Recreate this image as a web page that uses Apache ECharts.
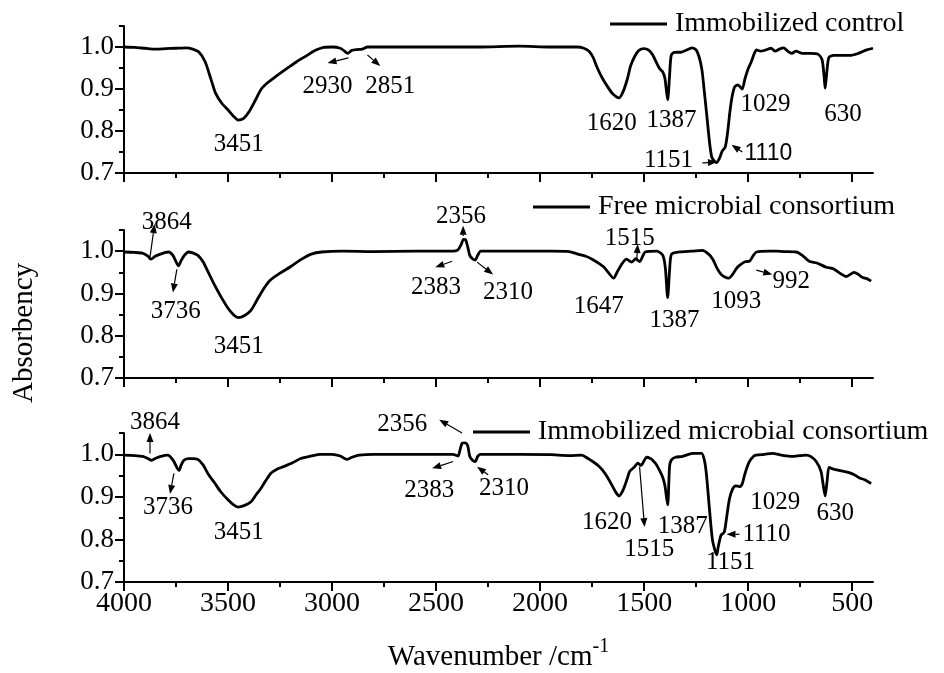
<!DOCTYPE html>
<html lang="en">
<head>
<meta charset="UTF-8">
<title>FTIR spectra</title>
<script src="https://cdn.jsdelivr.net/npm/echarts@6.0.0/dist/echarts.min.js"></script>
<style>html,body{margin:0;background:#fff}</style>
</head>
<body>
<div id="main" style="width:944px;height:673px;"></div>
<script>
// [wavenumber, absorbency]
var immobilizedControl = [[4000,1.0],[3950,0.999],[3900,0.997],[3850,0.995],[3800,0.996],[3750,0.997],[3700,0.998],[3670,0.995],[3640,0.988],[3610,0.965],[3580,0.92],[3560,0.89],[3530,0.866],[3500,0.85],[3475,0.836],[3451,0.826],[3425,0.83],[3400,0.845],[3370,0.872],[3340,0.9],[3310,0.915],[3270,0.93],[3220,0.948],[3170,0.965],[3120,0.98],[3080,0.992],[3040,0.999],[3000,1.0],[2960,0.997],[2940,0.99],[2925,0.985],[2905,0.992],[2880,0.994],[2855,0.995],[2830,1.0],[2600,1.0],[2300,1.0],[2100,1.002],[1950,1.0],[1820,1.0],[1790,0.997],[1765,0.99],[1745,0.975],[1725,0.95],[1700,0.925],[1675,0.905],[1650,0.888],[1620,0.879],[1600,0.895],[1580,0.925],[1565,0.955],[1545,0.978],[1525,0.992],[1500,0.996],[1480,0.993],[1460,0.982],[1440,0.962],[1425,0.948],[1410,0.94],[1400,0.925],[1387,0.874],[1378,0.93],[1370,0.98],[1355,0.987],[1320,0.988],[1290,0.994],[1270,0.998],[1250,0.993],[1235,0.975],[1222,0.945],[1210,0.89],[1198,0.833],[1185,0.77],[1175,0.738],[1162,0.728],[1151,0.725],[1138,0.735],[1125,0.752],[1110,0.762],[1098,0.8],[1088,0.845],[1078,0.88],[1065,0.905],[1050,0.91],[1038,0.905],[1029,0.9],[1015,0.925],[1000,0.948],[985,0.965],[970,0.985],[960,0.993],[940,0.99],[915,0.993],[890,0.997],[870,0.99],[850,0.995],[830,0.998],[810,0.99],[790,0.985],[770,0.99],[740,0.985],[700,0.985],[665,0.983],[645,0.97],[635,0.93],[630,0.902],[622,0.94],[612,0.975],[590,0.98],[550,0.98],[510,0.98],[470,0.985],[430,0.993],[400,0.997]];
var freeConsortium = [[4000,0.998],[3950,0.997],[3910,0.995],[3885,0.988],[3870,0.981],[3850,0.988],[3825,0.993],[3800,0.997],[3785,0.998],[3765,0.99],[3750,0.975],[3738,0.965],[3725,0.978],[3710,0.99],[3690,0.998],[3670,0.996],[3645,0.99],[3620,0.975],[3597,0.952],[3565,0.92],[3535,0.893],[3500,0.865],[3470,0.848],[3451,0.843],[3420,0.848],[3390,0.86],[3360,0.885],[3330,0.91],[3300,0.93],[3250,0.948],[3200,0.963],[3150,0.98],[3100,0.993],[3050,0.998],[2950,1.0],[2800,0.999],[2600,1.0],[2420,1.0],[2395,1.003],[2380,1.015],[2368,1.028],[2358,1.027],[2348,1.01],[2338,0.99],[2325,0.982],[2312,0.979],[2300,0.99],[2285,1.0],[2100,1.0],[1950,1.0],[1860,0.999],[1820,0.993],[1780,0.988],[1750,0.981],[1720,0.972],[1695,0.963],[1670,0.948],[1647,0.936],[1630,0.95],[1608,0.969],[1585,0.981],[1560,0.974],[1540,0.982],[1522,0.975],[1505,0.99],[1495,0.998],[1440,1.0],[1410,0.99],[1398,0.96],[1387,0.89],[1377,0.96],[1368,0.993],[1330,0.998],[1270,1.0],[1220,1.002],[1190,0.993],[1170,0.981],[1150,0.96],[1130,0.945],[1110,0.938],[1093,0.936],[1075,0.945],[1055,0.96],[1040,0.967],[1015,0.975],[994,0.976],[975,0.99],[960,0.998],[900,1.0],[865,1.0],[830,0.999],[769,0.998],[740,0.99],[707,0.976],[670,0.972],[625,0.962],[590,0.958],[560,0.948],[529,0.94],[500,0.948],[491,0.95],[470,0.945],[452,0.938],[430,0.935],[409,0.929]];
var immobilizedConsortium = [[4000,0.998],[3950,0.997],[3910,0.995],[3885,0.99],[3870,0.986],[3850,0.99],[3823,0.995],[3789,0.998],[3770,0.99],[3760,0.983],[3745,0.968],[3736,0.962],[3725,0.975],[3712,0.986],[3690,0.99],[3670,0.99],[3645,0.988],[3620,0.975],[3597,0.955],[3565,0.933],[3535,0.912],[3500,0.893],[3473,0.881],[3451,0.876],[3420,0.88],[3391,0.888],[3365,0.905],[3343,0.919],[3320,0.937],[3295,0.955],[3265,0.965],[3233,0.971],[3190,0.98],[3151,0.99],[3100,0.996],[3056,1.0],[3000,1.0],[2960,0.996],[2940,0.99],[2926,0.988],[2905,0.993],[2870,0.998],[2800,1.0],[2600,1.0],[2420,1.0],[2395,0.996],[2385,1.01],[2375,1.026],[2360,1.027],[2348,1.02],[2338,0.995],[2325,0.986],[2312,0.983],[2300,0.995],[2288,1.0],[2100,1.0],[1950,0.999],[1860,0.997],[1800,0.998],[1770,0.99],[1747,0.983],[1720,0.973],[1699,0.962],[1675,0.945],[1651,0.924],[1635,0.91],[1620,0.902],[1605,0.912],[1593,0.926],[1580,0.945],[1569,0.96],[1545,0.971],[1531,0.979],[1515,0.974],[1500,0.985],[1488,0.993],[1470,0.99],[1459,0.986],[1440,0.975],[1426,0.962],[1410,0.945],[1400,0.926],[1387,0.881],[1378,0.97],[1370,0.986],[1350,0.993],[1315,0.995],[1267,1.002],[1224,1.002],[1210,0.985],[1200,0.95],[1186,0.871],[1172,0.8],[1160,0.775],[1151,0.764],[1143,0.785],[1130,0.81],[1115,0.817],[1104,0.85],[1090,0.895],[1075,0.918],[1060,0.926],[1042,0.924],[1029,0.93],[1018,0.95],[1005,0.97],[994,0.983],[975,0.995],[961,0.998],[920,1.0],[884,1.002],[840,0.998],[788,0.995],[750,0.997],[721,0.998],[700,0.995],[673,0.983],[650,0.96],[640,0.93],[630,0.902],[620,0.94],[611,0.969],[590,0.965],[563,0.962],[540,0.96],[515,0.957],[490,0.952],[467,0.945],[440,0.94],[409,0.931]];

var seriesNames = ['Immobilized control', 'Free microbial consortium', 'Immobilized microbial consortium'];
var xMajorTicks = [500, 1000, 1500, 2000, 2500, 3000, 3500, 4000];
var xMinorTicks = [750, 1250, 1750, 2250, 2750, 3250, 3750];
var yMajorTicks = [0.7, 0.8, 0.9, 1.0];
var yMinorTicks = [0.75, 0.85, 0.95, 1.05];

// peak labels: [text, wavenumber, absorbency] (label centre)
var peakLabels = [
  [['3451',3449,0.767],['2930',3022,0.905],['2851',2720,0.905],['1620',1656,0.817],['1387',1368,0.826],['1151',1383,0.729],['1110',903,0.745,'sans'],['1029',917,0.864],['630',544,0.84]],
  [['3864',3794,1.067],['3736',3751,0.857],['3451',3449,0.774],['2356',2380,1.083],['2383',2500,0.914],['2310',2154,0.902],['1647',1718,0.869],['1515',1569,1.031],['1387',1354,0.836],['1093',1057,0.88],['992',793,0.929]],
  [['3864',3851,1.074],['3736',3789,0.876],['3451',3449,0.817],['2356',2663,1.071],['2383',2533,0.914],['2310',2173,0.919],['1620',1679,0.84],['1515',1476,0.776],['1387',1315,0.831],['1110',912,0.812],['1151',1085,0.745],['1029',870,0.888],['630',582,0.862]]
];
// arrows: [from, to] in data units
var peakArrows = [
  [[[2921,0.974],[3022,0.962]],[[2830,0.981],[2768,0.955]],[[1220,0.724],[1150,0.726]],[[1028,0.75],[1080,0.767]]],
  [[[3875,0.986],[3853,1.064]],[[3746,0.957],[3765,0.902]],[[2370,1.036],[2370,1.06]],[[2423,0.976],[2504,0.962]],[[2303,0.974],[2226,0.945]],[[1536,0.976],[1531,1.017]],[[961,0.955],[884,0.945]]],
  [[[3875,1.002],[3875,1.05]],[[3760,0.955],[3779,0.907]],[[2375,1.05],[2485,1.081]],[[2418,0.983],[2519,0.967]],[[2250,0.952],[2303,0.971]],[[1522,0.971],[1498,0.829]],[[1042,0.812],[1104,0.812]]]
];

var serif = '"Liberation Serif", "Times New Roman", serif';
var chart = echarts.init(document.getElementById('main'));
var panelData = [immobilizedControl, freeConsortium, immobilizedConsortium];
var gridTops = [26, 230, 433];
var gridHeights = [147, 148, 149];
var legendPos = [[610, 10], [533, 193], [473, 418]];

var grids = [], xAxes = [], yAxes = [], series = [], legends = [];
var black = '#000';
for (var i = 0; i < 3; i++) {
  grids.push({left: 124, right: 71, top: gridTops[i], height: gridHeights[i]});
  xAxes.push({
    type: 'value', gridIndex: i, min: 400, max: 4000, inverse: true, position: 'bottom',
    axisLine: {onZero: false, lineStyle: {color: black, width: 2}},
    axisTick: {customValues: xMajorTicks, length: 9, lineStyle: {color: black, width: 2}},
    axisLabel: {show: i === 2, customValues: xMajorTicks, color: black, fontFamily: serif, fontSize: 28, margin: 8,
      formatter: function (v) { return String(v); }},
    splitLine: {show: false},
    name: i === 2 ? '{a|Wavenumber /cm}{b|-1}' : '',
    nameLocation: 'middle', nameGap: 55,
    nameTextStyle: {rich: {
      a: {fontFamily: serif, fontSize: 29, color: black},
      b: {fontFamily: serif, fontSize: 20, color: black, padding: [0, 0, 20, 0]}
    }}
  });
  xAxes.push({
    type: 'value', gridIndex: i, min: 400, max: 4000, inverse: true, position: 'bottom',
    axisLine: {show: false, onZero: false},
    axisTick: {customValues: xMinorTicks, length: 5, lineStyle: {color: black, width: 2}},
    axisLabel: {show: false}, splitLine: {show: false}
  });
  yAxes.push({
    type: 'value', gridIndex: i, min: 0.7, max: 1.05, position: 'left',
    axisLine: {show: true, onZero: false, lineStyle: {color: black, width: 2}},
    axisTick: {show: true, customValues: yMajorTicks, length: 9, lineStyle: {color: black, width: 2}},
    axisLabel: {customValues: yMajorTicks, color: black, fontFamily: serif, fontSize: 27, margin: 10,
      formatter: function (v) { return v.toFixed(1); }},
    splitLine: {show: false}
  });
  yAxes.push({
    type: 'value', gridIndex: i, min: 0.7, max: 1.05, position: 'left',
    axisLine: {show: false, onZero: false},
    axisTick: {show: true, customValues: yMinorTicks, length: 5, lineStyle: {color: black, width: 2}},
    axisLabel: {show: false}, splitLine: {show: false}
  });
  series.push({
    type: 'line', name: seriesNames[i], xAxisIndex: 2 * i, yAxisIndex: 2 * i,
    data: panelData[i], symbol: 'none', smooth: 0.25, animation: false,
    lineStyle: {color: black, width: 2.8}, itemStyle: {color: black}
  });
  legends.push({
    data: [seriesNames[i]], left: legendPos[i][0], top: legendPos[i][1], padding: 0,
    icon: 'rect', itemWidth: 57, itemHeight: 3, selectedMode: false,
    itemStyle: {color: black, borderWidth: 0},
    textStyle: {fontFamily: serif, fontSize: 28, color: black, padding: [0, 0, 0, 3]}
  });
}

chart.setOption({
  animation: false,
  grid: grids, xAxis: xAxes, yAxis: yAxes, series: series, legend: legends
});

// annotations placed from data coordinates
var graphics = [];
peakLabels.forEach(function (list, i) {
  list.forEach(function (p) {
    var pt = chart.convertToPixel({seriesIndex: i}, [p[1], p[2]]);
    graphics.push({
      type: 'text', x: pt[0], y: pt[1], silent: true,
      style: {text: p[0], fill: black, align: 'center', verticalAlign: 'middle',
        fontFamily: p[3] === 'sans' ? '"Liberation Sans", Arial, sans-serif' : serif,
        fontSize: p[3] === 'sans' ? 23 : 25}
    });
  });
});
peakArrows.forEach(function (list, i) {
  list.forEach(function (a) {
    var p0 = chart.convertToPixel({seriesIndex: i}, a[0]);
    var p1 = chart.convertToPixel({seriesIndex: i}, a[1]);
    var dx = p1[0] - p0[0], dy = p1[1] - p0[1];
    var len = Math.sqrt(dx * dx + dy * dy) || 1;
    var ux = dx / len, uy = dy / len;
    var hl = 9, hw = 3.5;
    var bx = p1[0] - ux * hl, by = p1[1] - uy * hl;
    graphics.push({
      type: 'line', silent: true,
      shape: {x1: p0[0], y1: p0[1], x2: bx, y2: by},
      style: {stroke: black, lineWidth: 1.2}
    });
    graphics.push({
      type: 'polygon', silent: true,
      shape: {points: [[p1[0], p1[1]], [bx - uy * hw, by + ux * hw], [bx + uy * hw, by - ux * hw]]},
      style: {fill: black}
    });
  });
});
graphics.push({
  type: 'text', x: 24, y: 333, rotation: Math.PI / 2, silent: true,
  style: {text: 'Absorbency', fill: black, fontFamily: serif, fontSize: 29, align: 'center', verticalAlign: 'middle'}
});
chart.setOption({graphic: graphics});
</script>
</body>
</html>
